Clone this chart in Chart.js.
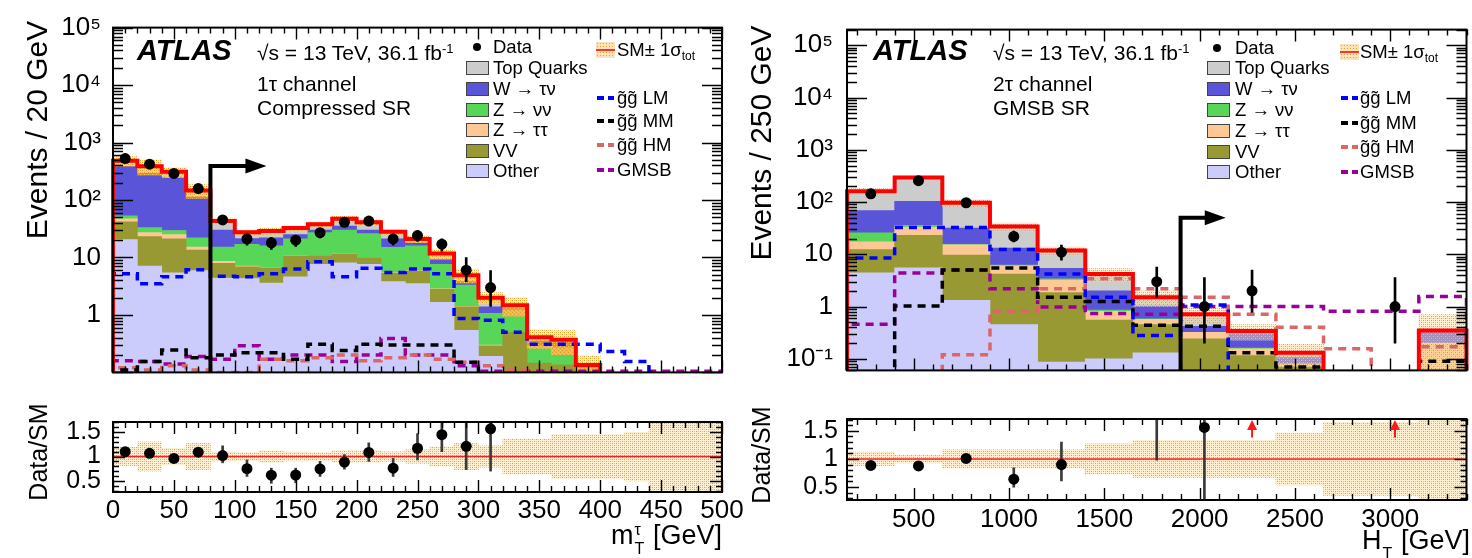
<!DOCTYPE html>
<html>
<head>
<meta charset="utf-8">
<title>ATLAS 1τ compressed SR and 2τ GMSB SR</title>
<script src="https://cdn.jsdelivr.net/npm/chart.js@4.4.1/dist/chart.umd.min.js"></script>
<style>
html,body{margin:0;padding:0;background:#fff;}
body{width:1472px;height:558px;position:relative;overflow:hidden;font-family:"Liberation Sans",Arial,Helvetica,sans-serif;color:#000;}
canvas{position:absolute;display:block;}
.t{position:absolute;white-space:nowrap;line-height:1;z-index:5;}
.vt{position:absolute;white-space:nowrap;line-height:1;z-index:5;transform:translate(-50%,-50%) rotate(-90deg);}
.sup{position:relative;top:-0.55em;font-size:0.62em;}
.sub{position:relative;top:0.35em;font-size:0.65em;}
.ssb{position:relative;display:inline-block;width:12px;height:19px;}
.ssb span{position:absolute;left:1px;font-size:16px;line-height:1;}
.box{position:absolute;box-sizing:border-box;width:23px;height:14px;border:1.5px solid #444;z-index:5;}
.dot{position:absolute;width:8px;height:8px;border-radius:50%;background:#000;z-index:5;}
.dash{position:absolute;height:3.5px;z-index:5;}
.smbox{position:absolute;box-sizing:border-box;width:19px;height:16px;z-index:5;background-color:#fae3b8;background-image:radial-gradient(circle,#e3a236 0.8px,transparent 1px);background-size:3px 3px;}
.smbox i{position:absolute;left:0;right:0;top:7px;height:2px;background:#ff3030;}
</style>
</head>
<body>
<canvas id="mainL" width="735" height="400" style="left:0;top:0;width:735px;height:400px"></canvas>
<canvas id="ratioL" width="750" height="163" style="left:0;top:395px;width:750px;height:163px"></canvas>
<canvas id="mainR" width="737" height="400" style="left:735px;top:0;width:737px;height:400px"></canvas>
<canvas id="ratioR" width="737" height="163" style="left:735px;top:395px;width:737px;height:163px"></canvas>
<script>
// ================= categories =================
const processes = ['Other', 'VV', 'Z → ττ', 'Z → νν', 'W → τν', 'Top Quarks'];
const signals = ['g̃g̃ LM', 'g̃g̃ MM', 'g̃g̃ HM', 'GMSB'];

// ================= left: 1τ channel, Compressed SR, m_T^τ (20 GeV bins) =================
const mtBins = [10,30,50,70,90,110,130,150,170,190,210,230,250,270,290,310,330,350,370,390,410,430,450,470,490];
const mtOther = [20.4,7.1,5.4,5.9,4.4,4.3,3.6,4.6,7.6,8.1,7.6,3.8,3.5,1.66,0.54,0.19,0.05,0.03,0.03,0.01,0.01,0.005,0.005,0.005,0.005];
const mtVV    = [21.1,15.9,15.6,7.5,3.5,2.6,3.0,5.9,3.2,3.2,2.4,1.5,2.3,1.14,0.84,0.10,0.45,0.115,0.105,0.01,0.01,0.005,0.005,0.005,0.005];
const mtZtt   = [5.5,4.0,4.0,1.8,0.7,0.2,0.1,0.1,0.1,0.1,0.1,0.1,0.1,0.05,0.02,0.01,0,0,0,0,0,0,0,0,0];
const mtZnn   = [6.0,6.0,4.5,6.8,6.6,9.9,9.3,10.4,16.1,18.6,15.9,9.6,10.1,4.75,1.9,0.77,0.73,0.145,0.135,0.1,0.02,0.02,0.01,0.01,0.01];
const mtW     = [332,258,211.5,91,14.8,4.4,6.0,4.0,3.0,5.0,4.0,6.0,2.0,1.6,0.5,0.31,0.07,0.06,0.065,0.005,0,0,0,0,0];
const mtTop   = [95,94,69,33,13,6.1,7.0,7.5,8.0,12,11,7.0,3.0,2.5,1.1,0.62,0.18,0.06,0.035,0.01,0.005,0,0,0,0];
const mtUnc   = [0.19,0.30,0.17,0.27,0.09,0.085,0.12,0.09,0.085,0.12,0.12,0.10,0.14,0.20,0.27,0.22,0.36,0.36,0.45,0.45,0.45,0.5,1,1,1];
const mtData   = [525,420,290,158,45,21,18,20,27,41,43,21,24,17,6,3,null,null,null,null,null,null,null,null,null];
const mtDataLo = [502,400,273,145,38.4,16.4,13.8,15.5,21.8,34.6,36.4,16.4,19.1,12.9,3.8,1.4,null,null,null,null,null,null,null,null,null];
const mtDataHi = [548,441,307,171,52.7,25.6,22.3,24.5,32.3,47.5,49.6,25.6,29,21.2,10,5.9,null,null,null,null,null,null,null,null,null];
const mtLM   = [5.2,3.5,4.6,6.1,4.7,4.6,5.2,6.3,8.4,4.6,6.5,5.5,6.3,5.2,0.87,0.81,0.5,0.31,0.31,0.31,0.23,0.155,0.01,0.01,0.01];
const mtMM   = [0.11,0.155,0.245,0.18,0.2,0.22,0.22,0.17,0.31,0.24,0.31,0.3,0.3,0.3,0.15,0.05,0.02,0.01,0.01,0.01,0.01,0.01,0.01,0.01,0.01];
const mtHM   = [0.12,0.11,0.13,0.11,0.1,0.1,0.17,0.16,0.18,0.2,0.16,0.18,0.2,0.17,0.15,0.13,0.11,0.09,0.09,0.09,0.09,0.09,0.09,0.09,0.09];
const mtGMSB = [0.16,0.155,0.14,0.19,0.17,0.29,0.17,0.2,0.2,0.155,0.2,0.39,0.2,0.2,0.13,0.105,0.105,0.105,0.105,0.105,0.105,0.105,0.105,0.105,0.105];
const mtRatio   = [1.10,1.065,0.96,1.09,1.02,0.75,0.615,0.62,0.745,0.885,1.085,0.76,1.17,1.45,1.21,1.57,null,null,null,null,null,null,null,null,null];
const mtRatioLo = [1.05,1.0,0.91,1.0,0.87,0.59,0.45,0.46,0.59,0.74,0.9,0.59,0.93,1.1,0.73,0.70,null,null,null,null,null,null,null,null,null];
const mtRatioHi = [1.15,1.13,1.01,1.18,1.22,0.93,0.76,0.76,0.9,1.04,1.28,0.96,1.47,1.9,2.0,2.6,null,null,null,null,null,null,null,null,null];
const mtXTicks = [0,50,100,150,200,250,300,350,400,450,500];
const mtYTicks = [1,10,100,1000,10000,100000];
const mtCutValue = 80, mtCutArrowTop = 390, mtCutArrowLength = 46;

// ================= right: 2τ channel, GMSB SR, H_T (250 GeV bins) =================
const htBins = [275,525,775,1025,1275,1525,1775,2025,2275,2525,2775,3025,3275];
const htOther = [4.4,5.5,1.32,0.45,0.087,0.1,0.13,0.03,0.01,0.01,0.005,0.005,0.01];
const htVV    = [7.9,17.5,8.3,3.75,1.77,0.45,0.32,0.21,0.105,0.06,0.005,0.005,0.02];
const htZtt   = [5.1,10,5.5,1.8,1.34,0.26,0.12,0.08,0.04,0.01,0.005,0.005,0.17];
const htZnn   = [8.4,3,0.4,0.2,0.2,0.05,0.01,0,0.005,0,0,0,0];
const htW     = [42.7,67,16.1,7.0,2.0,1.14,0.44,0.1,0.14,0.025,0.005,0.005,0.12];
const htTop   = [92.5,193,65.4,20.8,6.4,2.2,0.48,0.29,0.04,0.025,0.005,0.005,0.03];
const htUnc   = [0.12,0.07,0.16,0.16,0.16,0.27,0.33,0.33,0.33,0.46,0.65,0.65,1.0];
const htData   = [144,257,97,22,11,null,3,1,2,null,null,1,null];
const htDataLo = [132,241,87,17.3,7.7,null,1.5,0.2,0.77,null,null,0.2,null];
const htDataHi = [156,273,107,27.7,15.1,null,5.7,3.6,5.0,null,null,3.6,null];
const htLM   = [8.5,32.6,32.6,12.3,4.2,1.5,0.28,1.07,0.01,0.01,0.01,0.01,0.01];
const htMM   = [0.01,1.02,5.0,5.5,1.5,1.25,0.44,0.42,0.13,0.07,0.01,0.01,0.09];
const htHM   = [0.01,0.01,0.12,0.81,2.2,3.4,2.2,1.5,0.71,0.4,0.155,0.01,0.17];
const htGMSB = [0.46,4.4,5.0,2.2,0.98,0.74,0.71,1.0,1.0,1.0,0.81,0.81,1.55];
const htRatio   = [0.885,0.875,1.01,0.64,0.90,null,2.2,1.56,null,null,null,null,null];
const htRatioLo = [0.855,0.85,0.95,0.5,0.61,null,0.98,0,null,null,null,null,null];
const htRatioHi = [0.915,0.9,1.08,0.84,1.3,null,3,3,null,null,null,null,null];
const htRatioArrows = [2275,3025];
const htXTicks = [500,1000,1500,2000,2500,3000];
const htYTicks = [0.1,1,10,100,1000,10000,100000];
const htCutValue = 1900, htCutArrowTop = 50, htCutArrowLength = 237;

const ratioYTicks = [0.5,1,1.5];

// ================= styling =================
const FONT = '"Liberation Sans", Arial, Helvetica, sans-serif';
const PROC_COLORS = ['#ccccfc', '#999933', '#fdc896', '#57d657', '#5a55d8', '#cccccc'];
const SIG_COLORS = ['#0000ff', '#000000', '#da6666', '#990099'];
const FLOOR = 1e-4;

function makeHatch() {
  const c = document.createElement('canvas'); c.width = 4; c.height = 4;
  const g = c.getContext('2d');
  g.fillStyle = 'rgba(250,220,150,0.45)';
  g.fillRect(0, 0, 4, 4);
  g.fillStyle = 'rgb(228,158,40)';
  g.fillRect(0, 0, 1, 1); g.fillRect(2, 2, 1, 1);
  g.fillStyle = 'rgb(242,196,100)';
  g.fillRect(2, 0, 1, 1); g.fillRect(0, 2, 1, 1);
  return g.createPattern(c, 'repeat');
}
const HATCH = makeHatch();

const SUP = {'-':'⁻','0':'⁰','1':'¹','2':'²','3':'³','4':'⁴','5':'⁵','6':'⁶','7':'⁷','8':'⁸','9':'⁹'};
function logLabel(v) {
  const e = Math.round(Math.log10(v));
  if (e === 0) return '1';
  if (e === 1) return '10';
  return '10' + String(e).split('').map(ch => SUP[ch]).join('');
}

// ROOT-like frame with inward ticks on all four sides
const frameTicks = {
  id: 'frameTicks',
  afterDatasetsDraw(chart, args, o) {
    const {ctx, chartArea: a} = chart;
    const xs = chart.scales.x, ys = chart.scales.y;
    ctx.save();
    ctx.strokeStyle = '#000';
    ctx.lineWidth = 1.4;
    ctx.beginPath();
    for (let k = Math.ceil(xs.min / o.xMinor - 1e-9); k * o.xMinor <= xs.max + 1e-9; k++) {
      const v = k * o.xMinor;
      const major = Math.abs(v / o.xMajor - Math.round(v / o.xMajor)) < 1e-6;
      const L = major ? o.xLen[0] : o.xLen[1];
      const px = Math.round(xs.getPixelForValue(v)) + 0.5;
      ctx.moveTo(px, a.bottom); ctx.lineTo(px, a.bottom - L);
      ctx.moveTo(px, a.top); ctx.lineTo(px, a.top + L);
    }
    const yv = [];
    if (o.log) {
      for (let d = Math.floor(Math.log10(ys.min)) - 1; d <= Math.ceil(Math.log10(ys.max)); d++) {
        for (let m = 1; m <= 9; m++) {
          const v = m * Math.pow(10, d);
          if (v >= ys.min * 0.9999 && v <= ys.max * 1.0001) yv.push([v, m === 1]);
        }
      }
    } else {
      for (let k = Math.ceil(ys.min / o.yMinor - 1e-9); k * o.yMinor <= ys.max + 1e-9; k++) {
        const v = k * o.yMinor;
        yv.push([v, Math.abs(v / o.yMajor - Math.round(v / o.yMajor)) < 1e-6]);
      }
    }
    for (const [v, major] of yv) {
      const L = major ? o.yLen[0] : o.yLen[1];
      const py = Math.round(ys.getPixelForValue(v)) + 0.5;
      ctx.moveTo(a.left, py); ctx.lineTo(a.left + L, py);
      ctx.moveTo(a.right, py); ctx.lineTo(a.right - L, py);
    }
    ctx.stroke();
    ctx.lineWidth = 2;
    ctx.strokeRect(a.left, a.top, a.right - a.left, a.bottom - a.top);
    ctx.restore();
  }
};

// signal-region cut arrow
const cutArrow = {
  id: 'cutArrow',
  afterDatasetsDraw(chart, args, o) {
    if (o == null || o.x == null) return;
    const {ctx, chartArea: a} = chart;
    const xs = chart.scales.x, ys = chart.scales.y;
    const px = xs.getPixelForValue(o.x), py = ys.getPixelForValue(o.top);
    const pe = xs.getPixelForValue(o.x + o.len);
    const head = 21, hh = 7.5;
    ctx.save();
    ctx.strokeStyle = '#000'; ctx.fillStyle = '#000';
    ctx.lineWidth = 4; ctx.lineJoin = 'miter';
    ctx.beginPath(); ctx.moveTo(px, a.bottom); ctx.lineTo(px, py); ctx.lineTo(pe - head + 1, py); ctx.stroke();
    ctx.beginPath(); ctx.moveTo(pe - head, py - hh); ctx.lineTo(pe, py); ctx.lineTo(pe - head, py + hh); ctx.closePath(); ctx.fill();
    ctx.restore();
  }
};

// red arrows for ratio points above the axis range
const ratioArrows = {
  id: 'ratioArrows',
  afterDatasetsDraw(chart, args, o) {
    if (o == null || !o.xs) return;
    const {ctx, chartArea: a} = chart;
    const xs = chart.scales.x, ys = chart.scales.y;
    ctx.save();
    ctx.strokeStyle = '#ff1a1a'; ctx.fillStyle = '#ff1a1a'; ctx.lineWidth = 2;
    for (const v of o.xs) {
      const px = xs.getPixelForValue(v);
      const p0 = ys.getPixelForValue(o.from);
      const p1 = a.top + 1;
      ctx.beginPath(); ctx.moveTo(px, p0); ctx.lineTo(px, p1 + 8); ctx.stroke();
      ctx.beginPath(); ctx.moveTo(px - 5, p1 + 10); ctx.lineTo(px, p1); ctx.lineTo(px + 5, p1 + 10); ctx.closePath(); ctx.fill();
    }
    ctx.restore();
  }
};

function stepPoints(centers, vals) {
  const n = centers.length, w = centers[1] - centers[0];
  const pts = [{x: centers[0] - w / 2, y: FLOOR}];
  for (let i = 0; i < n; i++) pts.push({x: centers[i] - w / 2, y: vals[i] > 0 ? vals[i] : FLOOR});
  pts.push({x: centers[n - 1] + w / 2, y: vals[n - 1] > 0 ? vals[n - 1] : FLOOR});
  pts.push({x: centers[n - 1] + w / 2, y: FLOOR});
  return pts;
}

const BAR = {type: 'bar', grouped: false, barPercentage: 1, categoryPercentage: 1, borderWidth: 0, clip: 0};

function baseOptions(c) {
  return {
    responsive: false, animation: false, devicePixelRatio: 1, events: [],
    layout: {padding: c.pad},
    plugins: {legend: {display: false}, tooltip: {enabled: false}},
    scales: {}
  };
}

function buildMain(id, c) {
  const total = c.centers.map((_, i) => c.stack.reduce((s, v) => s + v[i], 0));
  const datasets = [];
  c.stack.forEach((vals, k) => datasets.push(Object.assign({}, BAR, {
    label: processes[k], stack: 'bg', order: 10, backgroundColor: PROC_COLORS[k],
    data: c.centers.map((x, i) => ({x, y: vals[i]}))
  })));
  datasets.push(Object.assign({}, BAR, {
    label: 'SM ± 1σ tot', order: 5, backgroundColor: HATCH,
    data: c.centers.map((x, i) => ({x, y: [Math.max(total[i] * (1 - c.unc[i]), FLOOR), total[i] * (1 + c.unc[i])]}))
  }));
  datasets.push({type: 'line', label: 'SM', order: 2, data: stepPoints(c.centers, total),
    borderColor: '#ff0000', borderWidth: 4, stepped: true, pointRadius: 0, fill: false,
    clip: {left: 4, right: 4, top: 0, bottom: 0}});
  c.signals.forEach((vals, k) => datasets.push({type: 'line', label: signals[k], order: 3,
    data: stepPoints(c.centers, vals), borderColor: SIG_COLORS[k], borderWidth: 3.5, borderDash: [8, 6],
    stepped: true, pointRadius: 0, fill: false, clip: 0}));
  const idx = c.centers.map((_, i) => i).filter(i => c.data[i] != null);
  datasets.push(Object.assign({}, BAR, {label: 'Data uncertainty', order: 1, barThickness: 2, backgroundColor: '#000',
    data: idx.map(i => ({x: c.centers[i], y: [c.dataLo[i], c.dataHi[i]]}))}));
  datasets.push({type: 'line', label: 'Data', order: 0, showLine: false, pointRadius: 5.5,
    pointBackgroundColor: '#000', pointBorderWidth: 0, clip: 0,
    data: idx.map(i => ({x: c.centers[i], y: c.data[i]}))});

  const opt = baseOptions(c);
  opt.plugins.frameTicks = {log: true, xMinor: c.xMinor, xMajor: c.xMajor, xLen: [12, 6], yLen: [20, 10]};
  opt.plugins.cutArrow = c.cut;
  opt.scales.x = {type: 'linear', min: c.xMin, max: c.xMax, offset: false,
    grid: {display: false, drawTicks: false}, border: {display: false}, ticks: {display: false},
    afterBuildTicks: s => { s.ticks = c.xTicks.map(v => ({value: v})); },
    afterFit: s => { s.height = c.xHeight; }};
  opt.scales.y = {type: 'logarithmic', min: c.yMin, max: c.yMax,
    grid: {display: false, drawTicks: false}, border: {display: false},
    afterBuildTicks: s => { s.ticks = c.yTicks.map(v => ({value: v})); },
    ticks: {autoSkip: false, padding: c.yPad, color: '#000', font: {family: FONT, size: 26}, callback: v => logLabel(v)},
    afterFit: s => { s.width = c.yWidth; }};
  return new Chart(document.getElementById(id), {type: 'bar', data: {datasets}, plugins: [frameTicks, cutArrow], options: opt});
}

function buildRatio(id, c) {
  const datasets = [];
  datasets.push(Object.assign({}, BAR, {label: 'SM ± 1σ tot', order: 5, backgroundColor: HATCH,
    data: c.centers.map((x, i) => ({x, y: [1 - c.unc[i], 1 + c.unc[i]]}))}));
  datasets.push({type: 'line', label: 'SM', order: 3, borderColor: '#ff2020', borderWidth: 1.6, pointRadius: 0, clip: 0,
    data: [{x: c.xMin, y: 1}, {x: c.xMax, y: 1}]});
  const idx = c.centers.map((_, i) => i).filter(i => c.lo[i] != null);
  datasets.push(Object.assign({}, BAR, {label: 'Data/SM uncertainty', order: 1, barThickness: 2, backgroundColor: '#3a3a3a',
    data: idx.map(i => ({x: c.centers[i], y: [c.lo[i], c.hi[i]]}))}));
  datasets.push({type: 'line', label: 'Data/SM', order: 0, showLine: false, pointRadius: 5.5,
    pointBackgroundColor: '#000', pointBorderWidth: 0, clip: 0,
    data: idx.filter(i => c.ratio[i] != null).map(i => ({x: c.centers[i], y: c.ratio[i]}))});

  const opt = baseOptions(c);
  opt.plugins.frameTicks = {log: false, xMinor: c.xMinor, xMajor: c.xMajor, xLen: [12, 6], yMinor: 0.1, yMajor: 0.5, yLen: [12, 6]};
  opt.plugins.ratioArrows = c.arrows || {};
  opt.scales.x = {type: 'linear', min: c.xMin, max: c.xMax, offset: false,
    grid: {display: false, drawTicks: false}, border: {display: false},
    afterBuildTicks: s => { s.ticks = c.xTicks.map(v => ({value: v})); },
    ticks: {autoSkip: false, maxRotation: 0, padding: c.xPad, color: '#000', font: {family: FONT, size: 26}, callback: v => String(v)},
    afterFit: s => { s.height = c.xHeight; }};
  opt.scales.y = {type: 'linear', min: 0.27, max: 1.71,
    grid: {display: false, drawTicks: false}, border: {display: false},
    afterBuildTicks: s => { s.ticks = ratioYTicks.map(v => ({value: v})); },
    ticks: {autoSkip: false, padding: c.yPad, color: '#000', font: {family: FONT, size: 25}, callback: v => String(v)},
    afterFit: s => { s.width = c.yWidth; }};
  return new Chart(document.getElementById(id), {type: 'bar', data: {datasets}, plugins: [frameTicks, ratioArrows], options: opt});
}

buildMain('mainL', {
  centers: mtBins, stack: [mtOther, mtVV, mtZtt, mtZnn, mtW, mtTop], unc: mtUnc,
  signals: [mtLM, mtMM, mtHM, mtGMSB], data: mtData, dataLo: mtDataLo, dataHi: mtDataHi,
  xMin: 0, xMax: 500, xTicks: mtXTicks, xMinor: 10, xMajor: 50,
  yMin: 0.1, yMax: 1e5, yTicks: mtYTicks,
  pad: {left: 0, top: 22, right: 13, bottom: 0}, yWidth: 113, xHeight: 13, yPad: 12,
  cut: {x: mtCutValue, top: mtCutArrowTop, len: mtCutArrowLength}
});
buildRatio('ratioL', {
  centers: mtBins, unc: mtUnc, ratio: mtRatio, lo: mtRatioLo, hi: mtRatioHi,
  xMin: 0, xMax: 500, xTicks: mtXTicks, xMinor: 10, xMajor: 50,
  pad: {left: 0, top: 13, right: 28, bottom: 0}, yWidth: 113, xHeight: 66, yPad: 12, xPad: 3
});
buildMain('mainR', {
  centers: htBins, stack: [htOther, htVV, htZtt, htZnn, htW, htTop], unc: htUnc,
  signals: [htLM, htMM, htHM, htGMSB], data: htData, dataLo: htDataLo, dataHi: htDataHi,
  xMin: 150, xMax: 3400, xTicks: htXTicks, xMinor: 100, xMajor: 500,
  yMin: 0.06, yMax: 2e5, yTicks: htYTicks,
  pad: {left: 0, top: 23, right: 2, bottom: 0}, yWidth: 112, xHeight: 8, yPad: 14,
  cut: {x: htCutValue, top: htCutArrowTop, len: htCutArrowLength}
});
buildRatio('ratioR', {
  centers: htBins, unc: htUnc, ratio: htRatio, lo: htRatioLo, hi: htRatioHi,
  xMin: 150, xMax: 3400, xTicks: htXTicks, xMinor: 100, xMajor: 500,
  pad: {left: 0, top: 20, right: 2, bottom: 0}, yWidth: 112, xHeight: 58, yPad: 9, xPad: 4,
  arrows: {xs: htRatioArrows, from: 1.38}
});

// ================= text overlays =================
function add(cls, css, html) {
  const d = document.createElement('div');
  d.className = cls; d.style.cssText = css;
  if (html != null) d.innerHTML = html;
  document.body.appendChild(d);
  return d;
}
function text(html, left, cy, size, extra) {
  return add('t', `left:${left}px;top:${(cy - 0.49 * size).toFixed(1)}px;font-size:${size}px;${extra || ''}`, html);
}
function panelText(p) {
  text('ATLAS', p.atlasX, 50, 29, 'font-weight:bold;font-style:italic;');
  text('√s = 13 TeV, 36.1 fb<span class="sup">-1</span>', p.infoX, 52, 21);
  text(p.channel, p.infoX, 83, 21);
  text(p.region, p.infoX, 107, 21);
  // legend, first column
  add('dot', `left:${p.dotX - 4}px;top:${p.rows[0] - 4}px`);
  text('Data', p.textX, p.rows[0], 18.5);
  [5, 4, 3, 2, 1, 0].forEach((pi, k) => {
    add('box', `left:${p.boxX}px;top:${p.rows[k + 1] - 7}px;background:${PROC_COLORS[pi]}`);
    text(processes[pi], p.textX, p.rows[k + 1], 18.5);
  });
  // legend, second column
  add('smbox', `left:${p.sampX}px;top:${p.col2[0] - 8}px`, '<i></i>');
  text('SM± 1σ<span class="sub">tot</span>', p.col2X, p.col2[0], 18.5);
  signals.forEach((s, k) => {
    const cy = p.col2[k + 1];
    add('dash', `left:${p.sampX + 1}px;top:${cy - 1.75}px;width:7px;background:${SIG_COLORS[k]}`);
    add('dash', `left:${p.sampX + 12}px;top:${cy - 1.75}px;width:6px;background:${SIG_COLORS[k]}`);
    text(s, p.col2X, cy, 18.5);
  });
}
panelText({atlasX: 137, infoX: 257, channel: '1τ channel', region: 'Compressed SR',
  dotX: 477, boxX: 466, textX: 493, rows: [47, 68, 89, 110, 130, 151, 171],
  sampX: 596, col2X: 617, col2: [50, 98, 121, 145, 170]});
panelText({atlasX: 873, infoX: 993, channel: '2τ channel', region: 'GMSB SR',
  dotX: 1217, boxX: 1207, textX: 1235, rows: [48, 68, 89, 110, 131, 152, 172],
  sampX: 1340, col2X: 1360, col2: [52, 98, 123, 147, 172]});

// axis titles
add('vt', 'left:37px;top:130px;font-size:30px', 'Events / 20 GeV');
add('vt', 'left:38px;top:452px;font-size:25px', 'Data/SM');
add('vt', 'left:761px;top:143px;font-size:30px', 'Events / 250 GeV');
add('vt', 'left:761px;top:455px;font-size:25px', 'Data/SM');
add('t', 'left:722px;top:522px;font-size:27px;transform:translateX(-100%)',
  'm<span class="ssb"><span style="top:-3px">τ</span><span style="top:16px">T</span></span> [GeV]');
add('t', 'left:1470px;top:527px;font-size:27px;transform:translateX(-100%)',
  'H<span class="ssb"><span style="top:16px">T</span></span> [GeV]');
</script>
</body>
</html>
